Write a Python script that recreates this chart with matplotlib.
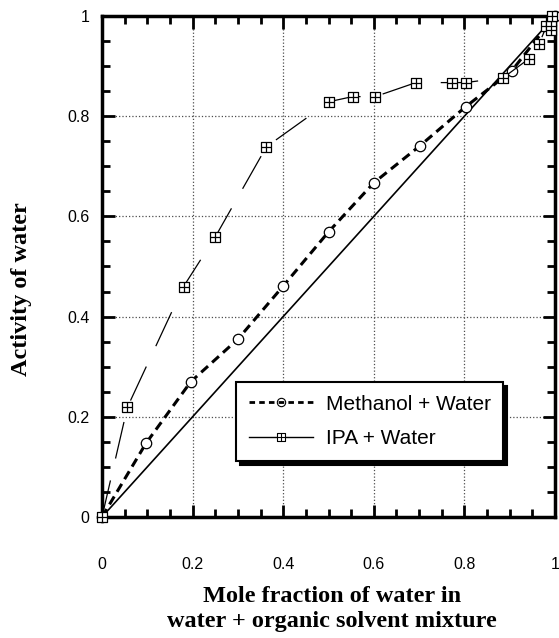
import numpy as np
import matplotlib
matplotlib.use("Agg")
import matplotlib.pyplot as plt
from matplotlib.path import Path
from matplotlib.lines import Line2D

# Data
meoh_x = [0.0, 0.097, 0.196, 0.30, 0.40, 0.50, 0.60, 0.702, 0.803, 0.904, 1.0]
meoh_y = [0.0, 0.147, 0.270, 0.355, 0.461, 0.569, 0.667, 0.741, 0.819, 0.890, 1.0]

ipa_x = [0.0, 0.056, 0.18, 0.25, 0.363, 0.502, 0.553, 0.603, 0.693, 0.772,
         0.803, 0.886, 0.943, 0.965, 0.981, 0.991, 0.991, 0.993]
ipa_y = [0.0, 0.219, 0.46, 0.559, 0.739, 0.829, 0.839, 0.839, 0.867, 0.867,
         0.867, 0.877, 0.915, 0.945, 0.979, 0.971, 0.989, 1.0]

ideal_x = [0.0, 1.0]
ideal_y = [0.0, 1.0]

tick_vals = [0, 0.2, 0.4, 0.6, 0.8, 1.0]
tick_labels = ["0", "0.2", "0.4", "0.6", "0.8", "1"]

labels = ["Methanol + Water", "IPA + Water"]

# square with a cross inside
box_cross = Path(
    [(-1, -1), (1, -1), (1, 1), (-1, 1), (-1, -1), (0, -1), (0, 1), (-1, 0), (1, 0)],
    [Path.MOVETO, Path.LINETO, Path.LINETO, Path.LINETO, Path.CLOSEPOLY,
     Path.MOVETO, Path.LINETO, Path.MOVETO, Path.LINETO],
)

plt.rcParams["font.family"] = "Liberation Sans"

fig = plt.figure(figsize=(5.59, 6.38), dpi=100)
ax = fig.add_axes([0.1825, 0.1897, 0.8104, 0.7853])

ax.plot(ideal_x, ideal_y, color="black", lw=1.2, zorder=2)
ax.plot(meoh_x, meoh_y, color="black", lw=2.2, linestyle=(0, (3, 1.8)),
        marker="o", ms=7.5, mfc="white", mec="black", mew=0.9, zorder=3, clip_on=False)
ax.plot(ipa_x, ipa_y, color="black", lw=0.9, linestyle=(0, (30, 18)),
        marker=box_cross, ms=7, mfc="white", mec="black", mew=0.9, zorder=4, clip_on=False)

ax.set_xlim(0, 1)
ax.set_ylim(0, 1)
ax.set_xticks(tick_vals)
ax.set_xticklabels(tick_labels)
ax.set_yticks(tick_vals)
ax.set_yticklabels(tick_labels)
ax.set_xticks(np.arange(0, 1.001, 0.05), minor=True)
ax.set_yticks(np.arange(0, 1.001, 0.05), minor=True)

ax.tick_params(which="both", direction="in", top=True, right=True, width=2, color="black")
ax.tick_params(which="major", length=9)
ax.tick_params(which="minor", length=6)
ax.tick_params(axis="x", which="major", pad=29, labelsize=11.5)
ax.tick_params(axis="y", which="major", pad=9, labelsize=11.5)

for s in ax.spines.values():
    s.set_linewidth(2.5)

ax.grid(True, which="major", linestyle=":", linewidth=0.9, color="0.3")
ax.set_axisbelow(True)

serif = {"family": "Liberation Serif", "weight": "bold", "size": 17.5}
ax.set_xlabel("Mole fraction of water in\nwater + organic solvent mixture",
              fontdict=serif, linespacing=1.25)
ax.xaxis.set_label_coords(0.508, -0.138)
ax.set_ylabel("Activity of water", fontdict=serif)
ax.yaxis.set_label_coords(-0.155, 0.455)

# legend
handles = [
    Line2D([], [], color="black", lw=2, linestyle=(0, (2, 1.5)), marker="o", ms=6,
           mfc="none", mec="black", mew=0.8),
    Line2D([], [], color="black", lw=1, marker=box_cross, ms=6, mfc="white",
           mec="black", mew=0.8),
]
leg = ax.legend(handles, labels, loc="lower left", bbox_to_anchor=(0.296, 0.112),
                borderaxespad=0, fancybox=False, framealpha=1, edgecolor="black",
                prop={"family": "Liberation Sans", "size": 15}, handlelength=3.1,
                labelspacing=0.75, borderpad=0.6, handletextpad=0.6,
                shadow={"color": "black", "alpha": 1, "ox": 3, "oy": -3})
leg.get_frame().set_linewidth(1.5)
leg.set_zorder(10)

plt.savefig("out.png", dpi=100)
